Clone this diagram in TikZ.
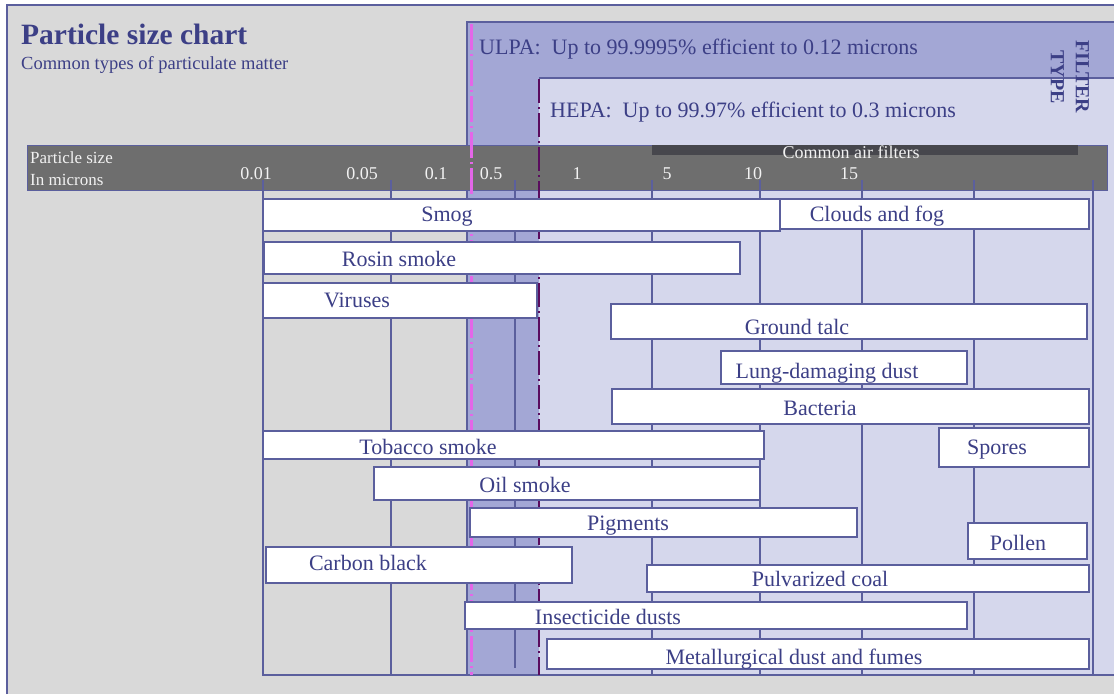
\documentclass[tikz,border=0pt]{standalone}
\usepackage{fontspec}
\setmainfont{Liberation Serif}
\definecolor{bggray}{HTML}{D9D9D9}
\definecolor{ulpafill}{HTML}{A3A7D5}
\definecolor{hepafill}{HTML}{D5D7EC}
\definecolor{framebl}{HTML}{5B5F9D}
\definecolor{ink}{HTML}{3C3F86}
\definecolor{axisgray}{HTML}{6E6E6E}
\definecolor{filtergray}{HTML}{47474D}
\definecolor{ulpaline}{HTML}{E466E8}
\definecolor{hepaline}{HTML}{5A0C5E}
\definecolor{tickwhite}{HTML}{F2F2F2}

\begin{document}
\begin{tikzpicture}[
  x=1pt, y=-1pt,
  bar/.style={fill=white, draw=framebl, line width=1.3pt},
  lbl/.style={font=\fontsize{22}{26}\selectfont, text=ink, anchor=base, inner sep=0pt},
  ticklbl/.style={font=\fontsize{18}{20}\selectfont, text=tickwhite, anchor=base, inner sep=0pt},
  gridline/.style={draw=framebl, line width=1.3pt},
]
\useasboundingbox (0,0) rectangle (1114,694);

% Background
\fill[white] (0,0) rectangle (1114,694);
\fill[bggray] (7,5) rectangle (1114,694);
\draw[framebl, line width=1.2pt] (7,694) -- (7,5) -- (1114,5);

% Title
\node[font=\bfseries\fontsize{29.5}{33}\selectfont, text=ink, anchor=base west, inner sep=0pt]
  (title) at (21,44) {Particle size chart};
\node[font=\fontsize{18.5}{22}\selectfont, text=ink, anchor=base west, inner sep=0pt]
  (subtitle) at (21,69) {Common types of particulate matter};

% === Filter zones ===
\fill[ulpafill] (467,22) rectangle (1114,675);
\draw[framebl, line width=1.2pt] (1114,22) -- (467,22) -- (467,675);
\fill[hepafill] (539,78) rectangle (1114,675);
\draw[framebl, line width=1.2pt] (539,78) -- (1114,78);

\node[lbl, anchor=base west] (ulpatxt) at (479,54)
  {ULPA:\ \ Up to 99.9995\% efficient to 0.12 microns};
\node[lbl, anchor=base west] (hepatxt) at (550,117)
  {HEPA:\ \ Up to 99.97\% efficient to 0.3 microns};
\node[font=\bfseries\fontsize{20}{25}\selectfont, text=ink, align=center, rotate=-90, inner sep=0pt]
  (filtertype) at (1070,77) {FILTER\\TYPE};

% === Size axis ===
\filldraw[fill=axisgray, draw=framebl, line width=1pt] (27,145) rectangle (1107,190);
\fill[filtergray] (652,145) rectangle (1078,155);
\node[ticklbl] (airfilters) at (851,158) {Common air filters};

\node[font=\fontsize{17}{22}\selectfont, text=tickwhite, anchor=north west, align=left, inner sep=0pt]
  (axistxt) at (30,151) {Particle size\\In microns};

\node[ticklbl] (tA) at (256,179) {0.01};
\node[ticklbl] (tB) at (362,179) {0.05};
\node[ticklbl] (tC) at (436,179) {0.1};
\node[ticklbl] (tD) at (491,179) {0.5};
\node[ticklbl] (tE) at (577,179) {1};
\node[ticklbl] (tF) at (667,179) {5};
\node[ticklbl] (tG) at (753,179) {10};
\node[ticklbl] (tH) at (849,179) {15};

% Grid
\draw[gridline] (263,180) -- (263,675) -- (1114,675)
  (391,180) -- (391,675)
  (515,180) -- (515,668)
  (652,180) -- (652,675)
  (760,180) -- (760,675)
  (862,180) -- (862,675)
  (974,180) -- (974,675)
  (1093,180) -- (1093,675);

% Filter limits
\draw[ulpaline, line width=3pt, dash pattern=on 26pt off 4pt on 2pt off 4pt] (471,24) -- (471,675);
\draw[hepaline, line width=2.6pt, dash pattern=on 24pt off 4pt on 2pt off 4pt] (539,79) -- (539,675);

% === Particles ===
\draw[bar] (263,199) rectangle (780,231);
\node[lbl] (smog) at (447,221) {Smog};
\draw[bar] (780,199) rectangle (1089,229);
\node[lbl] (clouds) at (877,221) {Clouds and fog};

\draw[bar] (264,242) rectangle (740,274);
\node[lbl] (rosin) at (399,266) {Rosin smoke};

\draw[bar] (263,283) rectangle (537,318);
\node[lbl] (viruses) at (357,307) {Viruses};

\draw[bar] (611,304) rectangle (1087,339);
\node[lbl] (talc) at (797,334) {Ground talc};

\draw[bar] (721,351) rectangle (967,384);
\node[lbl] (lungdust) at (827,378) {Lung-damaging dust};

\draw[bar] (612,389) rectangle (1089,424);
\node[lbl] (bacteria) at (820,415) {Bacteria};

\draw[bar] (263,431) rectangle (764,459);
\node[lbl] (tobacco) at (428,454) {Tobacco smoke};
\draw[bar] (939,428) rectangle (1089,467);
\node[lbl] (spores) at (997,454) {Spores};

\draw[bar] (374,467) rectangle (760,500);
\node[lbl] (oilsmoke) at (525,492) {Oil smoke};

\draw[bar] (470,508) rectangle (857,537);
\node[lbl] (pigments) at (628,530) {Pigments};
\draw[bar] (968,523) rectangle (1087,559);
\node[lbl] (pollen) at (1018,550) {Pollen};

\draw[bar] (266,547) rectangle (572,583);
\node[lbl] (carbon) at (368,570) {Carbon black};

\draw[bar] (647,565) rectangle (1089,592);
\node[lbl] (coal) at (820,586) {Pulvarized coal};

\draw[bar] (465,602) rectangle (967,629);
\node[lbl] (insecticide) at (608,624) {Insecticide dusts};

\draw[bar] (547,639) rectangle (1089,669);
\node[lbl] (metal) at (794,664) {Metallurgical dust and fumes};

\end{tikzpicture}
\end{document}
